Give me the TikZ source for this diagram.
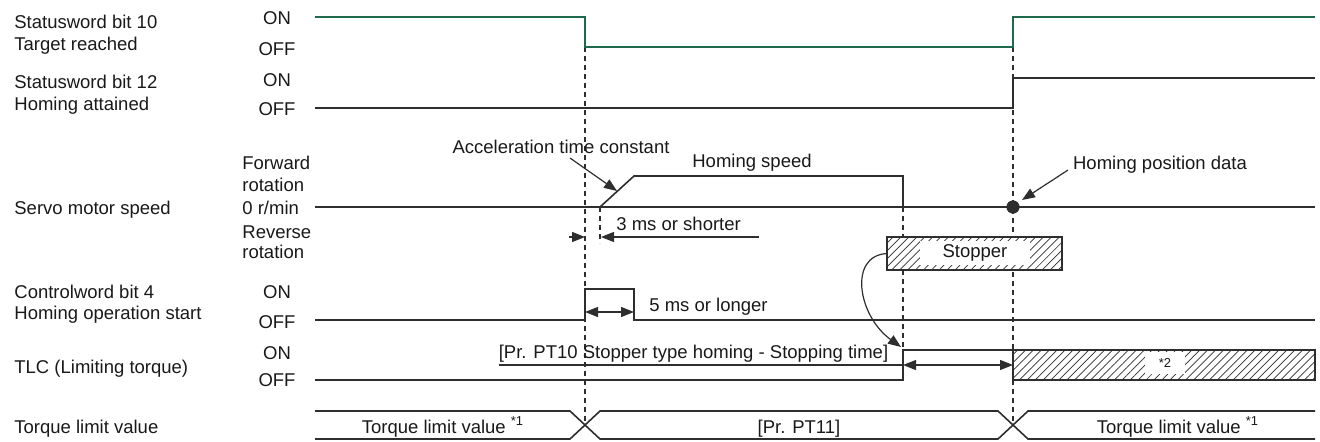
\documentclass[tikz,border=0pt]{standalone}
\usepackage{fontspec}
\setmainfont{Liberation Sans}
\usetikzlibrary{arrows.meta,patterns.meta}
\definecolor{sigline}{HTML}{2E2E2E}
\definecolor{siggreen}{HTML}{1F6A4C}

\begin{document}
\begin{tikzpicture}[x=0.5pt,y=-0.5pt,
  lbl/.style={font=\fontsize{9.25}{11}\selectfont,inner sep=0pt,text=black!90},
  lft/.style={lbl,anchor=base west},
  mid/.style={lbl,anchor=base},
  sig/.style={draw=sigline,line width=0.8pt},
  grn/.style={draw=siggreen,line width=0.8pt},
  guide/.style={draw=sigline,line width=0.6pt,dash pattern=on 2.5pt off 2pt},
  arr/.style={-{Triangle[length=6.5pt,width=5pt]},draw=sigline,line width=0.6pt},
  dim/.style={{Triangle[length=6.5pt,width=5pt]}-{Triangle[length=6.5pt,width=5pt]},draw=sigline,line width=0.6pt},
  hatchbox/.style={draw=sigline,line width=0.7pt,inner sep=0pt,preaction={fill=white},
                   pattern={Lines[angle=45,distance=2.8pt,line width=0.35pt]},pattern color=sigline},
  gap/.style={lbl,fill=white,anchor=center}]
\useasboundingbox (0,0) rectangle (1320,441);

\node[lft] (sw10) at (14,28.5)  {Statusword bit 10};
\node[lft] (trg)  at (14,50.5)  {Target reached};
\node[lft] (sw12) at (14,88.5)  {Statusword bit 12};
\node[lft] (hatt) at (14,110.5) {Homing attained};
\node[lft] (spd)  at (14,214.5) {Servo motor speed};
\node[lft] (cw4)  at (14,298.5) {Controlword bit 4};
\node[lft] (hos)  at (14,319.5) {Homing operation start};
\node[lft] (tlc)  at (14,373.5) {TLC (Limiting torque)};
\node[lft] (tlv)  at (14,433.5) {Torque limit value};

\node[mid] (on1)  at (277,24.5)  {ON};
\node[mid] (off1) at (277,55.5)  {OFF};
\node[mid] (on2)  at (277,86.5)  {ON};
\node[mid] (off2) at (277,115.5) {OFF};
\node[mid] (on3)  at (277,298.5) {ON};
\node[mid] (off3) at (277,328.5) {OFF};
\node[mid] (on4)  at (277,359.5) {ON};
\node[mid] (off4) at (277,386.5) {OFF};
\node[lft] (fwd)  at (242,169.5) {Forward};
\node[lft] (fwr)  at (242,191.5) {rotation};
\node[lft] (zro)  at (242,214.5) {0 r/min};
\node[lft] (rev)  at (242,238.5) {Reverse};
\node[lft] (rvr)  at (242,258.5) {rotation};

\draw[guide] (585,47) -- (585,425);
\draw[guide] (1013,47) -- (1013,425);
\draw[guide] (600,207) -- (600,243);
\draw[guide] (903,207) -- (903,350);

\draw[grn] (315,17) -- (585,17) -- (585,47) -- (1013,47) -- (1013,17) -- (1315,17);
\draw[sig] (315,108) -- (1013,108) -- (1013,78) -- (1315,78);
\draw[sig] (315,207) -- (1315,207);
\draw[sig] (600,207) -- (634,176) -- (903,176) -- (903,207);
\draw[sig] (315,320) -- (585,320) -- (585,289) -- (634,289) -- (634,320) -- (1315,320);
\draw[sig] (315,380) -- (903,380) -- (903,350) -- (1315,350);
\draw[sig] (499,365) -- (903,365);
\draw[sig] (315,411) -- (570,411) -- (600,439) -- (998,439) -- (1028,411) -- (1315,411);
\draw[sig] (315,439) -- (570,439) -- (600,411) -- (998,411) -- (1028,439) -- (1315,439);

\node[hatchbox,minimum width=87.5pt,minimum height=16.5pt] (stopper) at (974.5,253.5) {};
\node[gap,minimum width=55pt,minimum height=12pt] (stp) at (975,253) {Stopper};
\node[hatchbox,minimum width=151pt,minimum height=15pt] (tlcx) at (1164,365) {};
\node[gap,minimum width=20pt,minimum height=11pt,font=\fontsize{6.5}{7}\selectfont] (n2) at (1165,363) {*2};

\node[mid] (acc) at (561,153.5) {Acceleration time constant};
\node[mid] (hspd) at (752,167) {Homing speed};
\node[mid] (hpd) at (1160,169) {Homing position data};
\node[lft] (t3) at (616,230.5) {3 ms or shorter};
\node[lft] (t5) at (649,311) {5 ms or longer};
\node[mid] (pt10) at (693.5,358) {[Pr. PT10 Stopper type homing - Stopping time]};
\node[mid] (tq1) at (443,433) {Torque limit value \textsuperscript{*1}};
\node[mid] (pt11) at (799,433) {[Pr. PT11]};
\node[mid] (tq2) at (1178,433) {Torque limit value \textsuperscript{*1}};

\coordinate (accS) at (570,158);
\coordinate (accT) at (617,191);
\coordinate (hpdS) at (1068,170);
\coordinate (hpdT) at (1022,200);
\coordinate (tlcup) at (901,347);
\fill[sigline] (1013,207) circle (3.3pt);
\draw[arr] (accS) -- (accT);
\draw[arr] (hpdS) -- (hpdT);
\draw[arr] (stopper.west) .. controls (848,256) and (858,316) .. (tlcup);
\draw[arr] (569,237) -- (585,237);
\draw[arr] (759,237) -- (601,237);
\draw[dim] (585,312) -- (634,312);
\draw[dim] (903,365) -- (1013,365);
\end{tikzpicture}
\end{document}
